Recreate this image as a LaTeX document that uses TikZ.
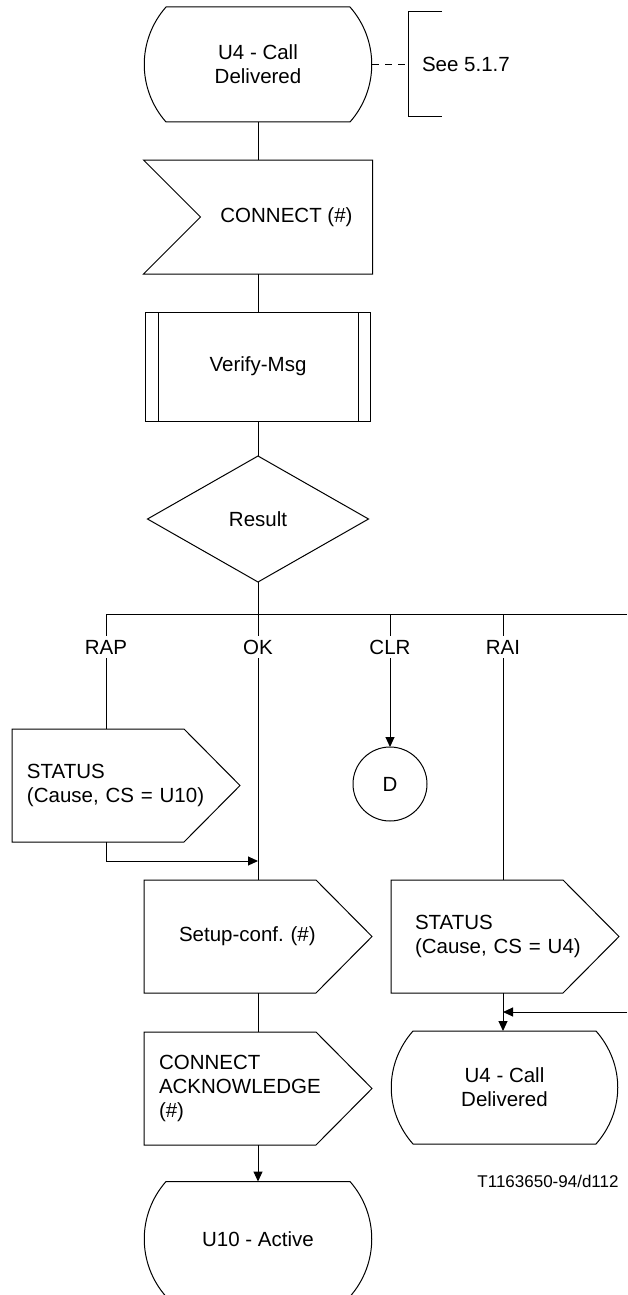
\documentclass[tikz,border=0pt]{standalone}
\usepackage{fontspec}
\setmainfont{Liberation Sans}
\usetikzlibrary{arrows.meta,calc,shapes.geometric}
\frenchspacing

\begin{document}
\begin{tikzpicture}[
  x=1pt, y=-1pt, line width=1pt,
  font=\fontsize{20.5}{24}\selectfont,
  every node/.style={outer sep=0pt},
  state/.style={minimum width=228, minimum height=115, align=center,
    append after command={\pgfextra{\draw
      ($(\tikzlastnode.north west)+(22,0)$) -- ($(\tikzlastnode.north east)+(-22,0)$)
      .. controls ($(\tikzlastnode.north east)+(7,33)$) and ($(\tikzlastnode.south east)+(7,-33)$)
      .. ($(\tikzlastnode.south east)+(-22,0)$) -- ($(\tikzlastnode.south west)+(22,0)$)
      .. controls ($(\tikzlastnode.south west)+(-7,-33)$) and ($(\tikzlastnode.north west)+(-7,33)$)
      .. ($(\tikzlastnode.north west)+(22,0)$) -- cycle;}}},
  inbox/.style={minimum width=229, minimum height=114,
    execute at begin node=\hspace*{57pt},
    append after command={\pgfextra{\draw
      (\tikzlastnode.north west) -- (\tikzlastnode.north east)
      -- (\tikzlastnode.south east) -- (\tikzlastnode.south west)
      -- ($(\tikzlastnode.west)+(57,0)$) -- cycle;}}},
  outbox/.style={minimum width=228, minimum height=113, align=left,
    append after command={\pgfextra{\draw
      (\tikzlastnode.north west) -- ($(\tikzlastnode.north east)+(-56,0)$)
      -- (\tikzlastnode.east) -- ($(\tikzlastnode.south east)+(-56,0)$)
      -- (\tikzlastnode.south west) -- cycle;}}},
  proc/.style={draw, minimum width=225, minimum height=109,
    append after command={\pgfextra{
      \draw ($(\tikzlastnode.north west)+(13,0)$) -- ($(\tikzlastnode.south west)+(13,0)$);
      \draw ($(\tikzlastnode.north east)+(-12,0)$) -- ($(\tikzlastnode.south east)+(-12,0)$);}}},
  decision/.style={diamond, draw, minimum width=221, minimum height=126, inner sep=0pt},
  conn/.style={circle, draw, minimum size=74, inner sep=0pt},
  brlab/.style={inner sep=4pt},
  >={Triangle[length=10pt,width=9pt]}]
  \useasboundingbox (0,0) rectangle (627,1295);
  % upper part
  \node[state] (cd1) at (258,64.5) {U4 - Call\\Delivered};
  \node[anchor=west, minimum height=105, inner xsep=14] (cmt) at (408,64.5) {See 5.1.7};
  \node[inbox] (conn) at (258,217) {CONNECT (\#)};
  \node[proc] (vm) at (258,366.5) {Verify-Msg};
  \node[decision] (res) at (258,519) {Result};
  % branches
  \coordinate (brL) at (106,614);
  \coordinate (brR) at (627,614);
  \foreach \nm/\x/\txt in {rap/106/RAP, ok/258/OK, clr/390/CLR, rai/503/RAI}
    {\node[brlab] (\nm) at (\x,647) {\txt};}
  \node[outbox, text width=198] (st1) at (126,785.5) {STATUS\\(Cause, CS = U10)};
  \node[conn] (d) at (390,784) {D};
  \coordinate (j1) at (258,861);
  \node[outbox, text width=158] (sc) at (258,936.5) {Setup-conf. (\#)};
  \node[outbox, text width=180] (st2) at (505,936.5) {STATUS\\(Cause, CS = U4)};
  \coordinate (in2) at (627,1012);
  \node[outbox, text width=198] (ca) at (258,1088.5) {CONNECT\\ACKNOWLEDGE\\(\#)};
  \node[state, minimum width=227, minimum height=113] (cd2) at (504.5,1087.5) {U4 - Call\\Delivered};
  \node[state] (cu10) at (258,1239) {U10 - Active};
  \node[font=\fontsize{17}{20}\selectfont] (ref) at (548,1181) {T1163650-94/d112};
  % edges
  \draw[dash pattern=on 7pt off 6pt] (cd1.east) -- (cmt.west);
  \draw ($(cmt.north west)+(34,0)$) -- (cmt.north west) -- (cmt.south west) -- ($(cmt.south west)+(34,0)$);
  \draw (cd1.south) -- (conn.north);
  \draw (conn.south) -- (vm.north);
  \draw (vm.south) -- (res.north);
  \draw (res.south) -- (ok.north);
  \draw (brL) -- (brR);
  \draw (brL) -- (rap.north);
  \draw (clr.north |- brL) -- (clr.north);
  \draw (rai.north |- brL) -- (rai.north);
  \draw (rap.south) -- (rap.south |- st1.north);
  \draw[->] (rap.south |- st1.south) |- (j1);
  \draw (ok.south) -- (sc.north);
  \draw[->] (clr.south) -- (d.north);
  \draw (rai.south) -- (rai.south |- st2.north);
  \draw (sc.south) -- (ca.north);
  \draw[->] (ca.south) -- (cu10.north);
  \draw[->] (rai.south |- st2.south) -- (rai.south |- cd2.north);
  \draw[->] (in2) -- (rai.south |- in2);
\end{tikzpicture}
\end{document}
